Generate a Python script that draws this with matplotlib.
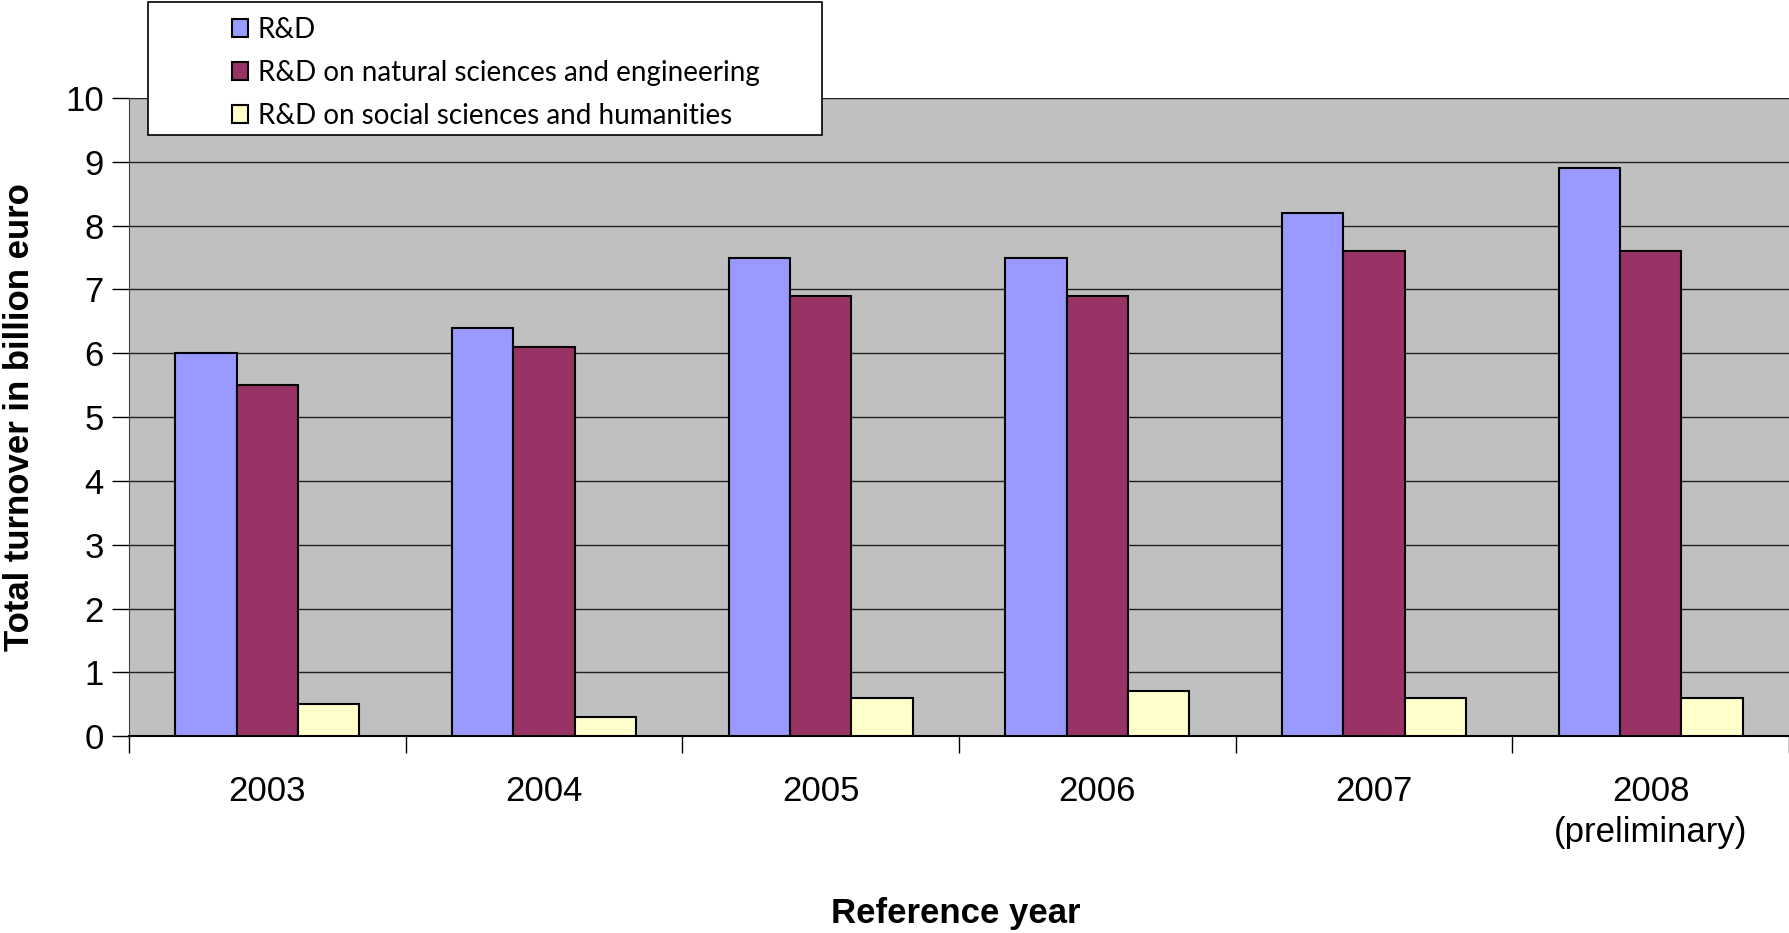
import numpy as np
import matplotlib
matplotlib.use("Agg")
import matplotlib.pyplot as plt
from matplotlib.patches import Rectangle

years = ["2003", "2004", "2005", "2006", "2007", "2008\n(preliminary)"]
rd_total = [6.0, 6.4, 7.5, 7.5, 8.2, 8.9]
rd_natural = [5.5, 6.1, 6.9, 6.9, 7.6, 7.6]
rd_social = [0.5, 0.3, 0.6, 0.7, 0.6, 0.6]

series_names = [
    "R&D",
    "R&D on natural sciences and engineering",
    "R&D on social sciences and humanities",
]
series_colors = ["#9999FF", "#993366", "#FFFFCC"]

plt.rcParams["font.family"] = ["Liberation Sans", "DejaVu Sans"]

fig = plt.figure(figsize=(17.89, 9.33), dpi=100)
ax = fig.add_axes([0.0721, 0.211, 0.9279, 0.684])
ax.set_facecolor("#C0C0C0")

x = np.arange(len(years))
width = 0.222
bars = []
for i, (vals, col) in enumerate(zip([rd_total, rd_natural, rd_social], series_colors)):
    b = ax.bar(x + (i - 1) * width, vals, width, color=col,
               edgecolor="black", linewidth=1.5, zorder=3)
    bars.append(b)

ax.set_xlim(-0.5, len(years) - 0.5)
ax.set_ylim(0, 10)
ax.set_yticks(range(0, 11))
ax.yaxis.grid(True, color="#202020", linewidth=1.0, zorder=1)
ax.set_axisbelow(True)

# category labels centred, ticks at the boundaries
ax.set_xticks(np.arange(len(years) + 1) - 0.5)
ax.set_xticklabels([])
ax.set_xticks(x, minor=True)
ax.set_xticklabels(years, minor=True, fontsize=25, linespacing=1.3)
ax.tick_params(axis="x", which="minor", length=0, pad=28)
ax.tick_params(axis="x", which="major", length=12, width=1, color="black", direction="out")
ax.tick_params(axis="y", labelsize=25, length=12, width=1, pad=6)

for side in ["top", "right"]:
    ax.spines[side].set_visible(False)
ax.spines["left"].set_color("#404040")
ax.spines["bottom"].set_color("black")
ax.spines["bottom"].set_linewidth(1.5)

fig.text(0.534, 0.021, "Reference year", fontsize=25, fontweight="bold",
         ha="center", va="center")
fig.text(0.011, 0.553, "Total turnover in billion euro", fontsize=25,
         fontweight="bold", rotation=90, ha="center", va="center")

# legend box
fig.patches.append(Rectangle((0.0827, 0.855), 0.377, 0.143, transform=fig.transFigure,
                             facecolor="white", edgecolor="black", linewidth=1.2, zorder=5))
leg = fig.legend(bars, series_names, loc="upper left", bbox_to_anchor=(0.117, 1.006),
                 frameon=False, prop={"family": "Lato", "size": 20},
                 handlelength=0.6, handleheight=0.6, handletextpad=0.35,
                 labelspacing=0.62, borderpad=0.3)
leg.set_zorder(6)
for h in leg.legend_handles:
    h.set_linewidth(1.5)

fig.savefig("out.png", dpi=100)
